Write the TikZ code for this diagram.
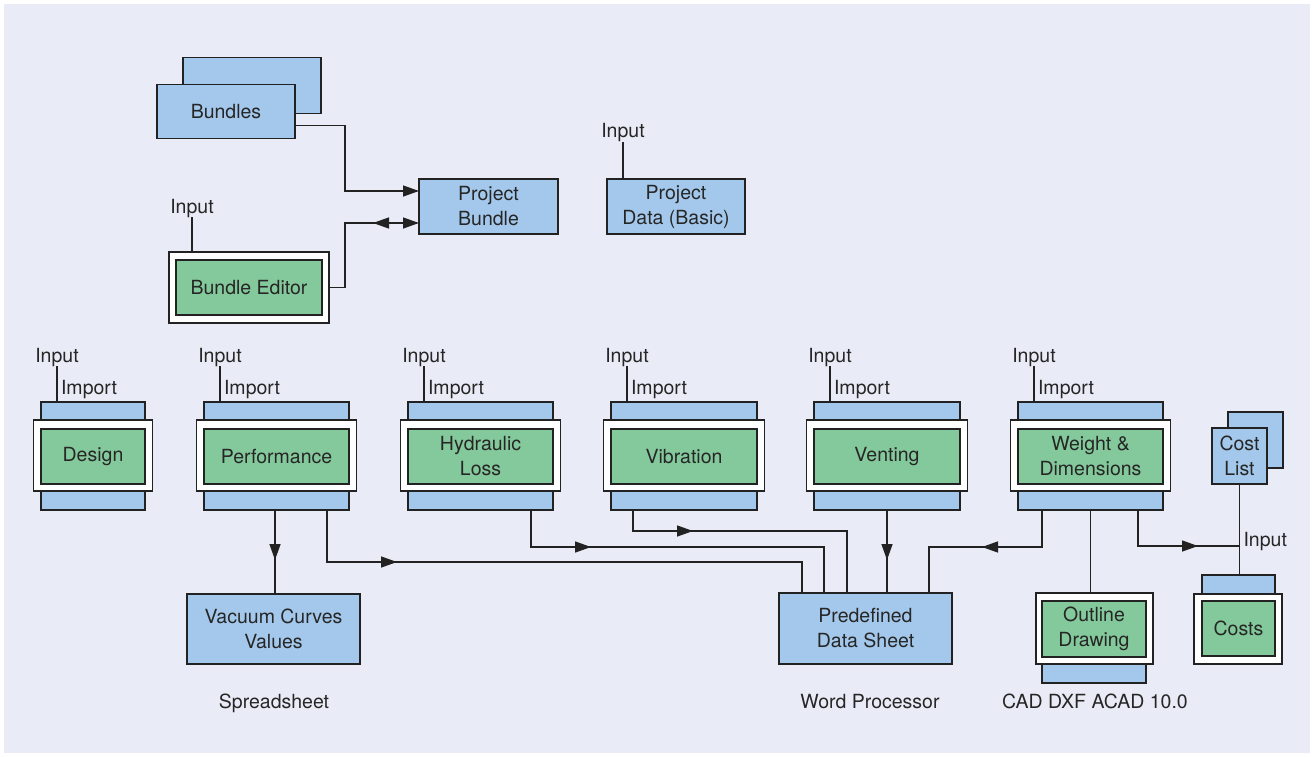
\documentclass[tikz,border=0pt]{standalone}
\usepackage{fontspec}
\setmainfont{TeX Gyre Heros}
\usetikzlibrary{arrows.meta,decorations.markings}
\definecolor{bgc}{HTML}{E9ECF6}
\definecolor{bluec}{HTML}{A3C8EB}
\definecolor{greenc}{HTML}{84C99B}
\definecolor{linec}{HTML}{222222}
\definecolor{txtc}{HTML}{262626}
\tikzset{
  every node/.style={font=\fontsize{19.5}{25}\selectfont, text=txtc},
  boxbase/.style={draw=linec, line width=1.6pt, inner sep=2pt, outer sep=0pt, align=center, rectangle},
  bluebox/.style={boxbase, fill=bluec},
  greenbox/.style={boxbase, fill=greenc},
  whitebox/.style={boxbase, fill=white},
  lbl/.style={inner sep=0pt, outer sep=0pt},
  conn/.style={draw=linec, line width=1.4pt},
  tipstyle/.tip={Triangle[length=16pt,width=11pt]},
  midarr/.style={postaction={decorate}, decoration={markings, mark=at position #1 with {\arrow{tipstyle}}}},
  midarrrev/.style={postaction={decorate}, decoration={markings, mark=at position #1 with {\arrowreversed{tipstyle}}}},
}
\newcommand\modl[4]{%
  \node[bluebox, minimum width=#3, minimum height=108] (#1-b) at (#2,456) {};
  \node[whitebox, minimum width=#3+15, minimum height=71] (#1-w) at (#2,455.5) {};
  \node[greenbox, minimum width=#3, minimum height=55] (#1) at (#2,456.5) {#4};
  \node[lbl, anchor=base] (#1-in) at (#2-#3/2+16,362) {Input};
  \draw[conn] (#1-in.south) -- (#1-in.south |- #1-b.north);
  \node[lbl, anchor=base west] (#1-im) at (#2-#3/2+20,394) {Import};
}
\begin{document}
\begin{tikzpicture}[x=1pt,y=-1pt]
\useasboundingbox (0,0) rectangle (1314,757);
\fill[white] (0,0) rectangle (1314,757);
\fill[bgc] (4,4) rectangle (1310,753);

% ---- top area
\node[bluebox, minimum width=138, minimum height=56] (bundles-back) at (252,85.5) {};
\node[bluebox, minimum width=138, minimum height=54] (bundles) at (226,111.5) {Bundles};
\node[bluebox, minimum width=139, minimum height=55] (pb) at (488.5,206.5) {Project\\Bundle};
\node[bluebox, minimum width=138, minimum height=55] (pd) at (676,206.5) {Project\\Data (Basic)};
\node[lbl, anchor=base] (pd-in) at (623,138) {Input};
\draw[conn] (pd-in.south) -- (pd-in.south |- pd.north);

\node[whitebox, minimum width=160, minimum height=71] (be-w) at (249,287.5) {};
\node[greenbox, minimum width=146, minimum height=55] (be) at (249,287.5) {Bundle Editor};
\node[lbl, anchor=base] (be-in) at (192,213) {Input};
\draw[conn] (be-in.south) -- (be-in.south |- be-w.north);

\draw[conn, -tipstyle] ([yshift=-14pt]bundles.east) -- ++(50,0) |- ([yshift=15.5pt]pb.west);
\draw[conn, -tipstyle, midarrrev=108.5pt] (be-w.east) -- ++(16,0) |- ([yshift=-16.5pt]pb.west);

% ---- module row
\modl{design}{93}{104}{Design}
\modl{perf}{276.5}{145}{Performance}
\modl{hyd}{480.5}{145}{Hydraulic\\Loss}
\modl{vib}{684}{146}{Vibration}
\modl{vent}{887}{146}{Venting}
\modl{wt}{1090.5}{145}{Weight \&\\Dimensions}

% cost list
\node[bluebox, minimum width=55, minimum height=56] (costlist-back) at (1255.5,440) {};
\node[bluebox, minimum width=55, minimum height=56, inner sep=0pt] (costlist) at (1239.5,456) {Cost\\List};

% ---- bottom row
\node[bluebox, minimum width=173, minimum height=70] (vac) at (273.5,629) {Vacuum Curves\\Values};
\node[bluebox, minimum width=173, minimum height=71] (pds) at (865.5,628.5) {Predefined\\Data Sheet};

\node[bluebox, minimum width=104, minimum height=63] (outline-b) at (1094,651.5) {};
\node[whitebox, minimum width=117, minimum height=71] (outline-w) at (1094.5,628.5) {};
\node[greenbox, minimum width=104, minimum height=56] (outline) at (1094,629) {Outline\\Drawing};

\node[bluebox, minimum width=73, minimum height=35] (costs-b) at (1238.5,592.5) {};
\node[whitebox, minimum width=88, minimum height=70] (costs-w) at (1238,629) {};
\node[greenbox, minimum width=73, minimum height=55] (costs) at (1238.5,628.5) {Costs};

\node[lbl, anchor=base] (ss) at (274,708) {Spreadsheet};
\node[lbl, anchor=base] (wp) at (870,708) {Word Processor};
\node[lbl, anchor=base] (cad) at (1095,708) {CAD DXF ACAD 10.0};

% ---- connectors
\draw[conn, midarr=50pt] ([xshift=71pt]perf-b.south west) -- ([xshift=71pt]perf-b.south west |- vac.north);
\draw[conn, midarr=122pt] ([xshift=123pt]perf-b.south west) -- ++(0,52) -| ([xshift=23pt]pds.north west);
\draw[conn, midarr=97pt] ([xshift=123pt]hyd-b.south west) -- ++(0,37) -| ([xshift=45pt]pds.north west);
\draw[conn, midarr=81pt] ([xshift=22pt]vib-b.south west) -- ++(0,21) -| ([xshift=68pt]pds.north west);
\draw[conn, midarr=50pt] (vent-b.south) -- (vent-b.south |- pds.north);
\draw[conn, midarr=97pt] ([xshift=24pt]wt-b.south west) -- ++(0,37) -| ([xshift=150pt]pds.north west);
\draw[conn] (wt-b.south) -- (wt-b.south |- outline-w.north);
\coordinate (cj) at (1239.5,546);
\draw[conn, midarr=96pt] ([xshift=120pt]wt-b.south west) -- ++(0,36) -- (cj);
\draw[conn] (costlist.south) -- (costlist.south |- costs-b.north);
\node[lbl, anchor=base west] (cost-in) at ([xshift=4pt]cj) {Input};
\end{tikzpicture}
\end{document}
